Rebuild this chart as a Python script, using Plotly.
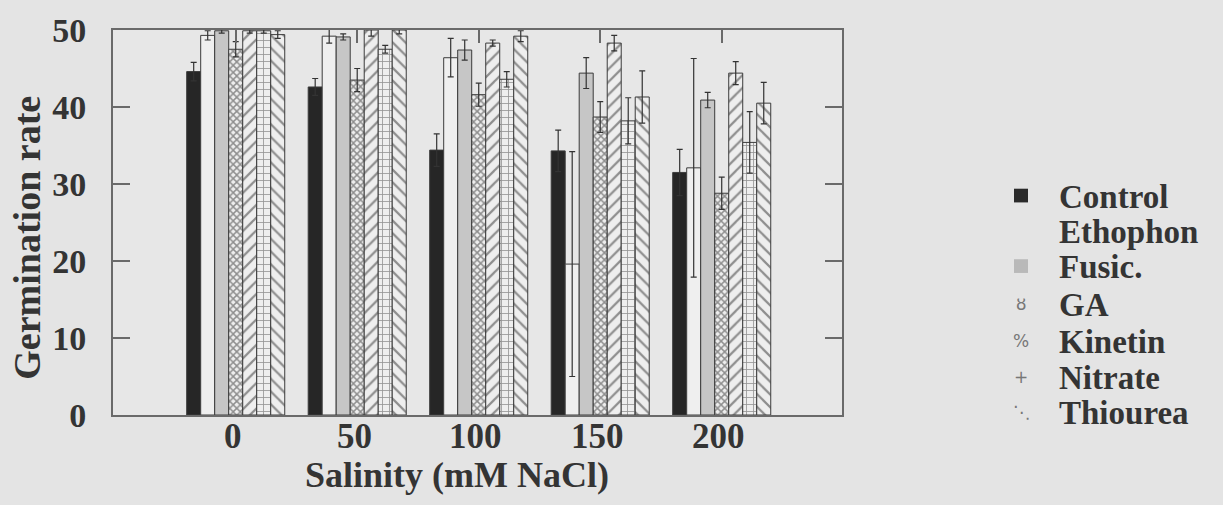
import plotly.graph_objects as go

# ---- data ----
salinity = ["0", "50", "100", "150", "200"]
series_names = ["Control", "Ethophon", "Fusic.", "GA", "Kinetin", "Nitrate", "Thiourea"]

control = [44.6, 42.6, 34.4, 34.3, 31.5]
control_err = [1.2, 1.1, 2.1, 2.7, 3.0]
ethophon = [49.3, 49.2, 46.4, 19.6, 32.1]
ethophon_err = [0.6, 0.9, 2.5, 14.6, 14.2]
fusic = [49.9, 49.1, 47.4, 44.4, 40.9]
fusic_err = [0.3, 0.4, 1.3, 2.0, 1.0]
ga = [47.5, 43.5, 41.6, 38.7, 28.8]
ga_err = [1.0, 1.5, 1.5, 2.0, 2.1]
kinetin = [49.9, 50.0, 48.3, 48.3, 44.4]
kinetin_err = [0.3, 0.8, 0.4, 1.0, 1.5]
nitrate = [49.9, 47.5, 43.6, 38.2, 35.4]
nitrate_err = [0.3, 0.5, 1.0, 3.0, 4.0]
thiourea = [49.4, 50.0, 49.2, 41.3, 40.5]
thiourea_err = [0.5, 0.5, 0.7, 3.4, 2.7]

values = [control, ethophon, fusic, ga, kinetin, nitrate, thiourea]
errors = [control_err, ethophon_err, fusic_err, ga_err, kinetin_err, nitrate_err, thiourea_err]

# ---- styles ----
SERIF = "Liberation Serif, Times New Roman, serif"
TXT = "#343434"
BG = "#e4e4e4"
LINE = "#6a6a6a"

styles = [
    dict(color="#262626", pattern=None),
    dict(color="#efefef", pattern=None),
    dict(color="#c6c6c6", pattern=None),
    dict(color="#eeeeee", pattern=dict(shape="x", size=5, solidity=0.5, fgcolor="#2e2e2e", bgcolor="#eeeeee")),
    dict(color="#eeeeee", pattern=dict(shape="/", size=9, solidity=0.25, fgcolor="#2e2e2e", bgcolor="#eeeeee")),
    dict(color="#eeeeee", pattern=dict(shape="+", size=7, solidity=0.22, fgcolor="#3a3a3a", bgcolor="#eeeeee")),
    dict(color="#eeeeee", pattern=dict(shape="\\", size=9, solidity=0.25, fgcolor="#2e2e2e", bgcolor="#eeeeee")),
]

fig = go.Figure()
for name, v, e, st in zip(series_names, values, errors, styles):
    marker = dict(color=st["color"], line=dict(color="#3c3c3c", width=1))
    if st["pattern"]:
        marker["pattern"] = st["pattern"]
    fig.add_trace(go.Bar(
        x=salinity, y=v, name=name, marker=marker,
        error_y=dict(type="data", array=e, visible=True, color="#333333", thickness=1.2, width=3),
        showlegend=False,
    ))

# invisible helper for the top axis (ticks at the group centres)
fig.add_trace(go.Scatter(x=[0, len(salinity) - 1], y=[0, 0], xaxis="x2", mode="markers",
                         marker=dict(opacity=0), showlegend=False, hoverinfo="skip"))

L, R, T, B = 113, 842, 22, 415
W, H = 1223, 505

def px_x(x):
    return (x - L) / (R - L)

def px_y(y):
    return (B - y) / (B - T)

fig.update_layout(
    width=W, height=H,
    margin=dict(l=L, r=W - R, t=T, b=H - B, pad=0),
    paper_bgcolor=BG, plot_bgcolor="#e7e7e7",
    barmode="group", bargap=0.193, bargroupgap=0,
    font=dict(family=SERIF, color=TXT),
    xaxis=dict(type="category", categoryarray=salinity, range=[-1.01, 4.99],
               showline=True, linecolor=LINE, linewidth=2, mirror=True,
               ticks="", showgrid=False, zeroline=False, showticklabels=False),
    xaxis2=dict(overlaying="x", side="top", range=[-1.01, 4.99],
                tickvals=list(range(len(salinity))),
                ticks="inside", ticklen=13, tickwidth=2, tickcolor=LINE,
                showticklabels=False, showgrid=False, zeroline=False, showline=False),
    yaxis=dict(range=[0, 50], tickvals=[0, 10, 20, 30, 40, 50],
               showline=True, linecolor=LINE, linewidth=2, mirror="ticks",
               ticks="inside", ticklen=17, tickwidth=2, tickcolor=LINE,
               showgrid=False, zeroline=False,
               tickfont=dict(family=SERIF, size=34, color=TXT, weight="bold"),
               ticklabelstandoff=18),
)

annotations = [
    dict(text="Germination rate", x=px_x(27), y=px_y(234), xref="paper", yref="paper",
         textangle=-90, showarrow=False, xanchor="center", yanchor="middle",
         font=dict(family=SERIF, size=38, color=TXT, weight="bold")),
    dict(text="Salinity (mM NaCl)", x=px_x(457), y=px_y(476), xref="paper", yref="paper",
         showarrow=False, xanchor="center", yanchor="middle",
         font=dict(family=SERIF, size=36, color=TXT, weight="bold")),
]

# category labels under the groups (placed at the category index positions)
for i, cat in enumerate(salinity):
    annotations.append(dict(text=cat, x=i, xref="x", y=px_y(437), yref="paper",
                            showarrow=False, xanchor="center", yanchor="middle", xshift=-3,
                            font=dict(family=SERIF, size=35, color=TXT, weight="bold")))

# legend (text + small key glyphs)
legend_y = [191, 227, 263, 302, 339, 376, 412]
for name, yy in zip(series_names, legend_y):
    annotations.append(dict(text=name, x=px_x(1057), y=px_y(yy + 1), xref="paper", yref="paper",
                            showarrow=False, xanchor="left", yanchor="middle",
                            font=dict(family=SERIF, size=33, color=TXT, weight="bold")))

key_glyphs = [None, None, None, "ȣ", "%", "+", "⋱"]
for g, yy in zip(key_glyphs, legend_y):
    if g:
        annotations.append(dict(text=g, x=px_x(1021), y=px_y(yy), xref="paper", yref="paper",
                                showarrow=False, xanchor="center", yanchor="middle",
                                font=dict(family="DejaVu Sans", size=17, color="#777777")))
fig.update_layout(annotations=annotations)

shapes = [
    dict(type="rect", xref="paper", yref="paper", x0=px_x(1014), x1=px_x(1028),
         y0=px_y(198), y1=px_y(184), fillcolor="#2a2a2a", line=dict(width=0)),
    dict(type="rect", xref="paper", yref="paper", x0=px_x(1014), x1=px_x(1028),
         y0=px_y(270), y1=px_y(256), fillcolor="#b9b9b9", line=dict(width=0)),
]
fig.update_layout(shapes=shapes)

fig.write_html("out.html")
